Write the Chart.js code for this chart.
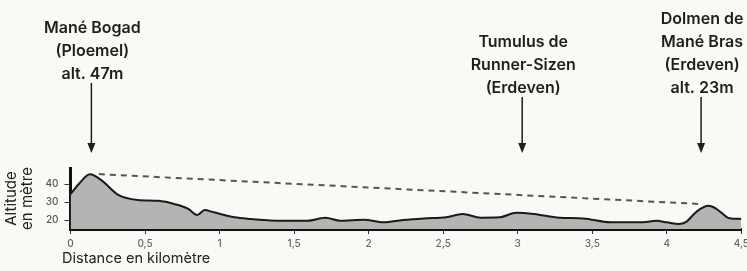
<!DOCTYPE html>
<html>
<head>
<meta charset="utf-8">
<script src="https://cdn.jsdelivr.net/npm/chart.js@4/dist/chart.umd.min.js"></script>
<style>
  html, body { margin: 0; padding: 0; background: #fbf9f6; overflow: hidden; }
  #wrap { width: 753px; height: 271px; }
</style>
</head>
<body>
<div id="wrap"><canvas id="profileChart"></canvas></div>
<script>
// Data
const distances = [0, 0.06, 0.13, 0.21, 0.32, 0.45, 0.59, 0.70, 0.79, 0.85, 0.90, 0.96, 1.10, 1.21, 1.41, 1.59, 1.71, 1.81, 1.97, 2.10, 2.23, 2.37, 2.52, 2.63, 2.75, 2.88, 2.99, 3.11, 3.28, 3.44, 3.62, 3.84, 3.93, 4.00, 4.08, 4.13, 4.20, 4.28, 4.33, 4.40, 4.42, 4.5];
const altitudes = [34.4, 40.5, 45.5, 42, 34, 31.2, 30.7, 28.8, 26.2, 22.8, 25.6, 24.3, 21.5, 20.6, 19.6, 19.6, 21.3, 19.6, 20.1, 18.7, 20, 20.9, 21.5, 23.4, 21.3, 21.5, 24.1, 23.4, 21.3, 20.9, 18.7, 18.7, 19.6, 18.7, 17.8, 19, 24.7, 27.9, 26.4, 21.8, 21, 20.6];
const trendDistances = [0.19, 4.21];
const trendAltitudes = [45.6, 29];
const xTicks = [0, 0.5, 1, 1.5, 2, 2.5, 3, 3.5, 4, 4.5];
const yTicks = [20, 30, 40];

// Landmarks (position on the route + text)
const landmarkKm = [0.14, 3.03, 4.23];
const landmarkLabels = [
  ['Mané Bogad', '(Ploemel)', 'alt. 47m'],
  ['Tumulus de', 'Runner-Sizen', '(Erdeven)'],
  ['Dolmen de', 'Mané Bras', '(Erdeven)', 'alt. 23m']
];

const profile = distances.map((d, i) => ({ x: d, y: altitudes[i] }));
const trend = trendDistances.map((d, i) => ({ x: d, y: trendAltitudes[i] }));

// draws the labels and arrows above the chart
const landmarkPlugin = {
  id: 'landmarks',
  afterDraw(chart) {
    const c = chart.ctx;
    const xs = chart.scales.x;
    const tops = [83, 97, 97];
    const tipY = 153;
    c.save();
    c.fillStyle = '#1e1e1e';
    c.strokeStyle = '#1e1e1e';
    c.font = '600 16px Inter';
    c.textAlign = 'center';
    c.textBaseline = 'middle';
    landmarkKm.forEach((km, i) => {
      const x = xs.getPixelForValue(km);
      const lines = landmarkLabels[i];
      lines.forEach((t, j) => {
        const y = tops[i] - 9 - (lines.length - 1 - j) * 23;
        c.fillText(t, Math.min(x + 1, 747 - c.measureText(t).width / 2 - 2), y);
      });
      c.lineWidth = 1.5;
      c.beginPath();
      c.moveTo(x, tops[i]);
      c.lineTo(x, tipY - 8);
      c.stroke();
      c.beginPath();
      c.moveTo(x - 4, tipY - 10);
      c.lineTo(x + 4, tipY - 10);
      c.lineTo(x, tipY);
      c.closePath();
      c.fill();
    });
    // x axis title
    c.font = '14.5px Inter';
    c.textAlign = 'left';
    c.fillStyle = '#222';
    c.fillText('Distance en kilomètre', 62, 259);
    c.restore();
  }
};

const chart = new Chart(document.getElementById('profileChart'), {
  type: 'line',
  data: {
    datasets: [
      {
        data: profile,
        borderColor: '#1a1a1a',
        borderWidth: 2,
        backgroundColor: '#b4b4b4',
        fill: 'start',
        pointRadius: 0,
        cubicInterpolationMode: 'monotone'
      },
      {
        data: trend,
        borderColor: '#555',
        borderWidth: 2,
        borderDash: [6, 5],
        fill: false,
        pointRadius: 0
      }
    ]
  },
  options: {
    responsive: true,
    maintainAspectRatio: false,
    animation: false,
    layout: { padding: { top: 168, left: 4, right: 0, bottom: 17 } },
    plugins: { legend: { display: false }, tooltip: { enabled: false } },
    scales: {
      x: {
        type: 'linear',
        min: 0,
        max: 4.5,
        afterBuildTicks: (axis) => { axis.ticks = xTicks.map(v => ({ value: v })); },
        ticks: {
          color: '#666',
          font: { family: 'Inter', size: 10, weight: '500' },
          padding: 4,
          maxRotation: 0,
          callback: (v) => String(v).replace('.', ',')
        },
        grid: { drawOnChartArea: false, drawTicks: true, tickLength: 5, color: '#333', lineWidth: 1 },
        border: { color: '#111', width: 3 }
      },
      y: {
        min: 15,
        max: 49,
        afterBuildTicks: (axis) => { axis.ticks = yTicks.map(v => ({ value: v })); },
        ticks: {
          color: '#555',
          font: { family: 'Inter', size: 10, weight: '500' },
          padding: 6
        },
        grid: { drawOnChartArea: false, drawTicks: true, tickLength: 6, color: '#333', lineWidth: 1 },
        border: { color: '#111', width: 3 },
        title: {
          display: true,
          text: ['Altitude', 'en mètre'],
          color: '#222',
          font: { family: 'Inter', size: 15, lineHeight: 1.05 },
          padding: { top: 0, bottom: 4 }
        }
      }
    }
  },
  plugins: [landmarkPlugin]
});
</script>
</body>
</html>
